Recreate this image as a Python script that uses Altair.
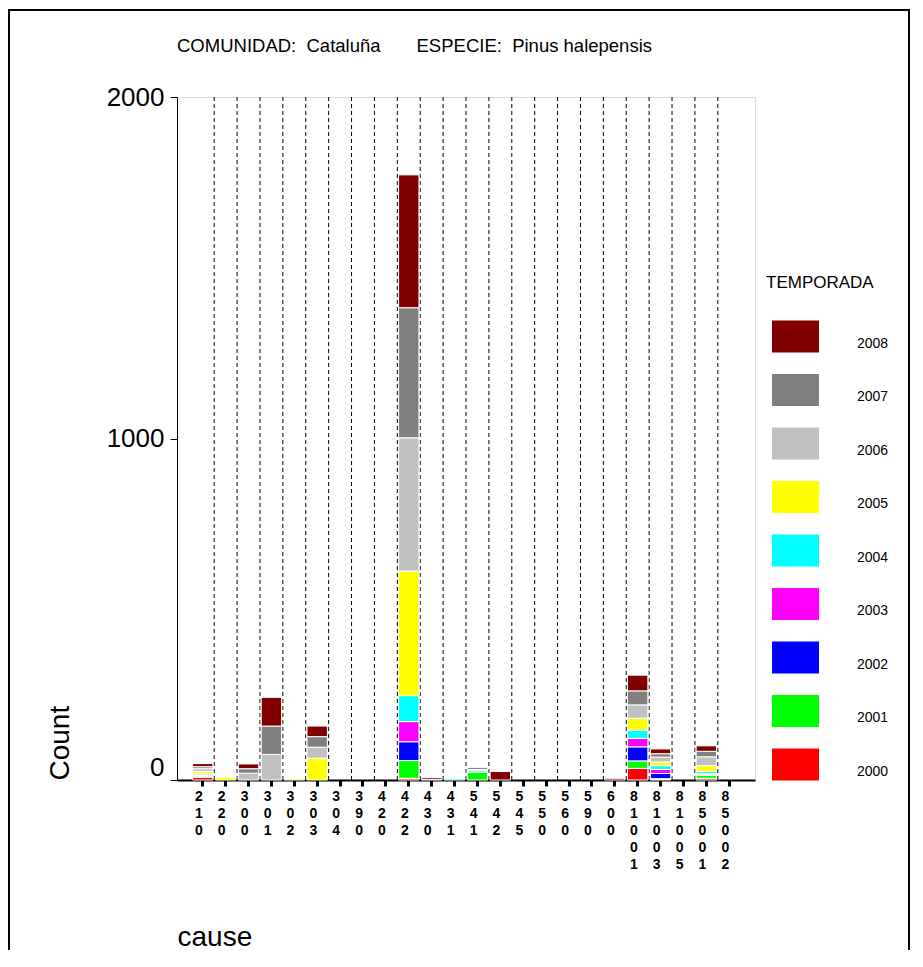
import altair as alt
import pandas as pd

causes = ["210", "220", "300", "301", "302", "303", "304", "390", "420", "422",
          "430", "431", "541", "542", "545", "550", "560", "590", "600",
          "81001", "81003", "81005", "85001", "85002"]

years = ["2000", "2001", "2002", "2003", "2004", "2005", "2006", "2007", "2008"]
colors = ["#FF0000", "#00FF00", "#0000FF", "#FF00FF", "#00FFFF",
          "#FFFF00", "#C0C0C0", "#808080", "#800000"]

# counts per cause (same order as `causes`) for each season
c2000 = [8, 0, 0, 0, 0, 0, 0, 0, 0, 5, 0, 0, 0, 0, 0, 0, 0, 0, 0, 34, 2, 0, 5, 0]
c2001 = [2, 0, 0, 0, 0, 0, 0, 0, 0, 52, 0, 0, 22, 0, 0, 0, 0, 0, 0, 22, 2, 0, 9, 0]
c2002 = [2, 0, 0, 0, 0, 0, 0, 0, 0, 55, 0, 0, 0, 0, 0, 0, 0, 0, 0, 41, 15, 0, 2, 0]
c2003 = [2, 0, 0, 0, 0, 0, 0, 0, 0, 59, 0, 0, 0, 0, 0, 0, 0, 0, 0, 25, 12, 0, 3, 0]
c2004 = [4, 0, 0, 0, 0, 0, 0, 0, 0, 76, 0, 4, 5, 0, 0, 0, 0, 0, 0, 24, 11, 0, 6, 0]
c2005 = [7, 8, 0, 0, 4, 64, 0, 0, 0, 365, 0, 0, 0, 0, 0, 0, 0, 0, 0, 35, 11, 0, 17, 0]
c2006 = [8, 0, 20, 75, 0, 32, 0, 0, 0, 390, 2, 0, 4, 0, 0, 0, 0, 0, 0, 39, 14, 0, 26, 0]
c2007 = [6, 0, 13, 83, 0, 31, 0, 0, 0, 381, 0, 0, 6, 0, 0, 0, 0, 0, 0, 41, 10, 0, 16, 0]
c2008 = [9, 0, 14, 84, 0, 31, 0, 0, 0, 389, 5, 0, 0, 25, 0, 0, 0, 0, 5, 46, 14, 0, 16, 0]

series = [c2000, c2001, c2002, c2003, c2004, c2005, c2006, c2007, c2008]

rows = []
for yr, vals in zip(years, series):
    for cause, v in zip(causes, vals):
        if v > 0:
            rows.append({"cause": cause, "TEMPORADA": yr, "yearnum": int(yr), "count": v})
df = pd.DataFrame(rows)

FONT = "Liberation Sans"
W, H = 578, 683

x_scale = alt.Scale(domain=causes, paddingInner=0, paddingOuter=0.625)

bars = alt.Chart(df).mark_bar(
    width=alt.RelativeBandSize(0.89), stroke="white", strokeWidth=1
).encode(
    x=alt.X("cause:N", scale=x_scale, sort=causes,
            axis=alt.Axis(title="cause", labelAngle=0,
                          labelExpr="split(datum.label, '')",
                          labelFont=FONT, labelFontSize=14, labelFontWeight="bold",
                          labelColor="black", labelLineHeight=17,
                          labelBaseline="top", labelPadding=3,
                          labelOverlap=False, labelFlush=False,
                          tickSize=6, tickWidth=3, tickColor="black",
                          domainColor="black", domainWidth=2, grid=False,
                          titleFont=FONT, titleFontSize=28, titleFontWeight="normal",
                          titleColor="black", titleAnchor="start", titleAlign="left",
                          titleBaseline="alphabetic", titleX=0, titleY=165)),
    y=alt.Y("count:Q", stack="zero",
            scale=alt.Scale(domain=[0, 2000], nice=False),
            axis=alt.Axis(title="Count", values=[0, 1000, 2000], format="d", grid=False,
                          labelFont=FONT, labelFontSize=26, labelColor="black",
                          labelPadding=6,
                          labelBaseline={"condition": {"test": "datum.value == 0", "value": "bottom"},
                                         "value": "middle"},
                          tickSize=7, tickColor="black", domainColor="black",
                          titleFont=FONT, titleFontSize=28, titleFontWeight="normal",
                          titleColor="black", titleAngle=270, titleAlign="left",
                          titleBaseline="alphabetic", titleX=-109, titleY=H)),
    color=alt.Color("TEMPORADA:N",
                    scale=alt.Scale(domain=years[::-1], range=colors[::-1]),
                    legend=alt.Legend(title="TEMPORADA", orient="none",
                                      legendX=589, legendY=178,
                                      symbolType="M-1,-0.68L1,-0.68L1,0.68L-1,0.68Z",
                                      symbolSize=2209, symbolOffset=6,
                                      symbolStrokeWidth=0, symbolOpacity=1,
                                      labelOffset=38, labelBaseline="top",
                                      labelFont=FONT, labelFontSize=14, labelColor="black",
                                      titleFont=FONT, titleFontSize=17,
                                      titleFontWeight="normal", titleColor="black",
                                      titlePadding=21, rowPadding=13.5)),
    order=alt.Order("yearnum:Q", sort="ascending"),
)

dividers = alt.Chart(pd.DataFrame({"cause": causes[1:]})).mark_rule(
    color="black", strokeWidth=1, strokeDash=[4, 3]
).encode(x=alt.X("cause:N", scale=x_scale, sort=causes, bandPosition=0))

one = alt.Data(values=[{"k": 1}])
frame_left = alt.Chart(one).mark_rule(color="black", strokeWidth=2).encode(
    x=alt.value(-168), y=alt.value(-87), y2=alt.value(H + 200))
frame_top = alt.Chart(one).mark_rule(color="black", strokeWidth=2).encode(
    x=alt.value(-169), x2=alt.value(733), y=alt.value(-87))
frame_right = alt.Chart(one).mark_rule(color="black", strokeWidth=2).encode(
    x=alt.value(732), y=alt.value(-87), y2=alt.value(H + 200))

chart = alt.layer(dividers, bars, frame_left, frame_top, frame_right).properties(
    width=W, height=H,
    title=alt.TitleParams(
        "COMUNIDAD:\u00a0\u00a0Cataluña\u00a0\u00a0\u00a0\u00a0\u00a0\u00a0\u00a0ESPECIE:\u00a0\u00a0Pinus halepensis",
        anchor="start", frame="group", font=FONT, fontSize=18.5,
        fontWeight="normal", color="black", offset=-46),
    autosize=alt.AutoSizeParams(type="none"),
    padding={"left": 169, "top": 89, "right": 156, "bottom": 170},
).configure_view(stroke="black", strokeWidth=1.5).configure(background="white")

chart.save("out.html", embed_options={"renderer": "svg", "actions": False})
